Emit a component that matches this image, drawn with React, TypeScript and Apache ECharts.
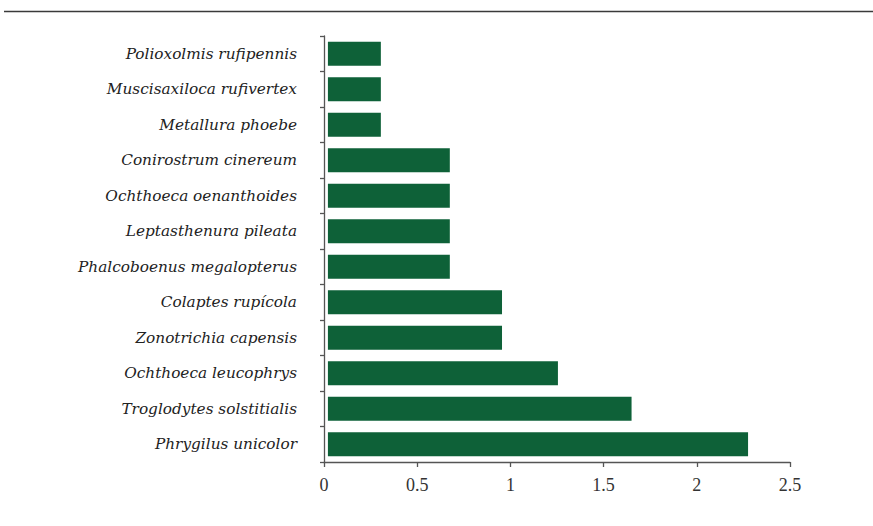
import React, { useEffect, useRef } from "react";
import * as echarts from "echarts";

const species = [
  "Polioxolmis rufipennis",
  "Muscisaxiloca rufivertex",
  "Metallura phoebe",
  "Conirostrum cinereum",
  "Ochthoeca oenanthoides",
  "Leptasthenura pileata",
  "Phalcoboenus megalopterus",
  "Colaptes rupícola",
  "Zonotrichia capensis",
  "Ochthoeca leucophrys",
  "Troglodytes solstitialis",
  "Phrygilus unicolor",
];

const values = [0.305, 0.305, 0.305, 0.675, 0.675, 0.675, 0.675, 0.955, 0.955, 1.255, 1.65, 2.275];

const xTicks = [0, 0.5, 1, 1.5, 2, 2.5];

// small visual gap between the axis line and the start of each bar
const barGap = 0.021;

export default function App() {
  const ref = useRef<HTMLDivElement>(null);
  useEffect(() => {
    const chart = echarts.init(ref.current!, null, { renderer: "svg" });
    chart.setOption({
      animation: false,
      graphic: [
        {
          type: "line",
          shape: { x1: 4, y1: 11.5, x2: 873, y2: 11.5 },
          style: { stroke: "#3a3a3a", lineWidth: 1.5 },
        },
      ],
      grid: { left: 324, right: 83, top: 36, bottom: 64, containLabel: false },
      xAxis: {
        type: "value",
        min: xTicks[0],
        max: xTicks[xTicks.length - 1],
        interval: 0.5,
        splitLine: { show: false },
        axisLine: { show: true, lineStyle: { color: "#555", width: 1.3 } },
        axisTick: { show: true, length: 5, lineStyle: { color: "#555", width: 1.3 } },
        axisLabel: {
          margin: 14,
          color: "#333",
          fontFamily: "Liberation Serif",
          fontSize: 18,
          formatter: (v: number) => String(v),
        },
      },
      yAxis: {
        type: "category",
        inverse: true,
        data: species,
        axisLine: { show: true, lineStyle: { color: "#555", width: 1.3 } },
        axisTick: { show: true, length: 4, alignWithLabel: false, lineStyle: { color: "#555", width: 1.3 } },
        axisLabel: {
          margin: 27,
          color: "#222",
          fontFamily: "DejaVu Serif",
          fontStyle: "italic",
          fontSize: 15.3,
        },
      },
      series: [
        {
          type: "bar",
          stack: "s",
          data: species.map(() => barGap),
          barWidth: 24,
          itemStyle: { color: "transparent" },
          silent: true,
        },
        {
          type: "bar",
          stack: "s",
          data: values.map((v) => v - barGap),
          barWidth: 24,
          itemStyle: { color: "#0e6138" },
        },
      ],
    });
    return () => chart.dispose();
  }, []);
  return <div ref={ref} style={{ width: 873, height: 526, position: "absolute", left: 0, top: 0 }} />;
}
